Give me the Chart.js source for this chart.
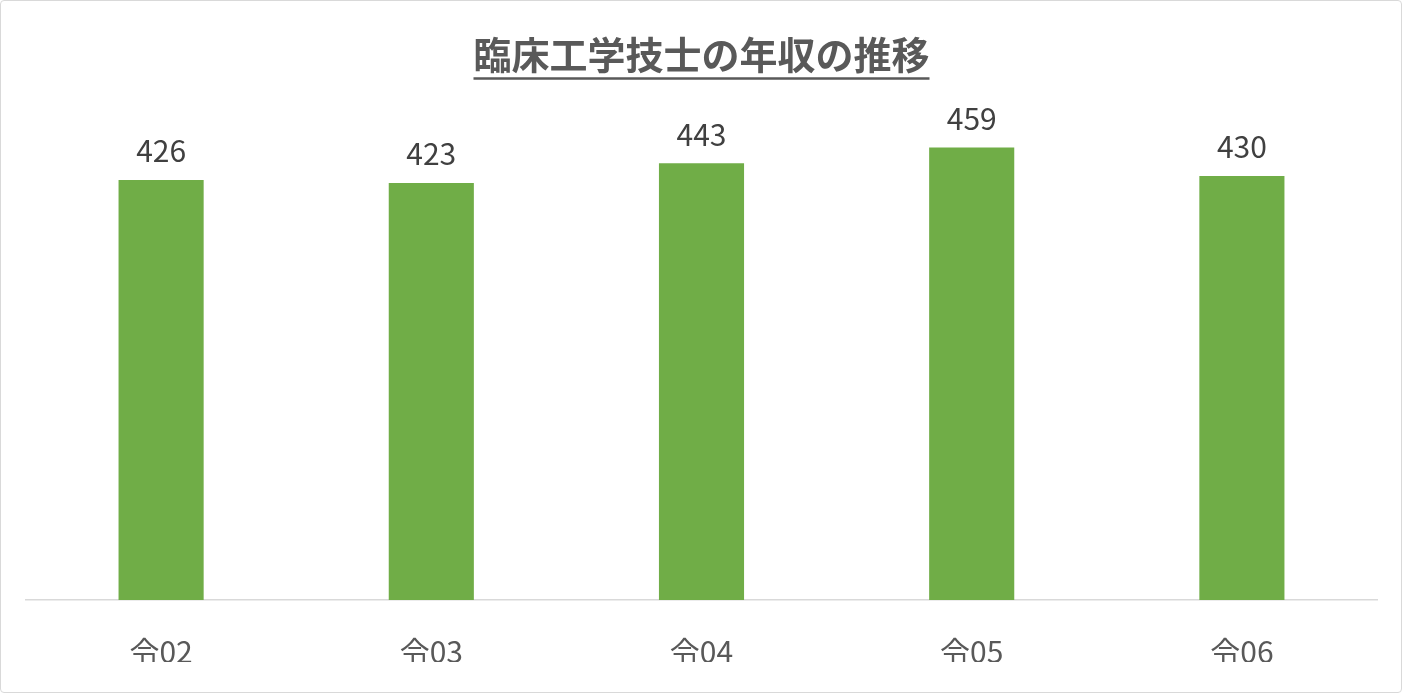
<!DOCTYPE html>
<html lang="ja">
<head>
<meta charset="utf-8">
<script src="https://cdn.jsdelivr.net/npm/chart.js@4/dist/chart.umd.min.js"></script>
<style>
  html, body { margin: 0; padding: 0; background: #fff; }
  .frame { width: 1400px; height: 691px; border: 1px solid #d9d9d9; border-radius: 4px; position: relative; }
  canvas { display: block; }
</style>
</head>
<body>
<div class="frame"><canvas id="chart"></canvas></div>
<script>
const TITLE = '臨床工学技士の年収の推移';
const CATEGORIES = ['令02', '令03', '令04', '令05', '令06'];
const SALARY = [426, 423, 443, 459, 430];
const FONT = '"Noto Sans CJK JP", "Noto Sans", sans-serif';
const TITLE_SIZE = 38;
const TITLE_PAD_TOP = 31;

// value labels above each bar
const valueLabels = {
  id: 'valueLabels',
  afterDatasetsDraw(chart) {
    const ctx = chart.ctx;
    const meta = chart.getDatasetMeta(0);
    ctx.save();
    ctx.font = '30px ' + FONT;
    ctx.fillStyle = '#404040';
    ctx.textAlign = 'center';
    ctx.textBaseline = 'middle';
    meta.data.forEach((bar, i) => {
      ctx.fillText(String(SALARY[i]), bar.x, bar.y - 29);
    });
    ctx.restore();
  }
};

// underline under the title
const titleUnderline = {
  id: 'titleUnderline',
  afterDraw(chart) {
    const tb = chart.titleBlock;
    if (!tb) return;
    const ctx = chart.ctx;
    ctx.save();
    ctx.font = 'bold ' + TITLE_SIZE + 'px ' + FONT;
    const w = ctx.measureText(TITLE).width;
    const cx = (chart.chartArea.left + chart.chartArea.right) / 2;
    const y = tb.top + TITLE_PAD_TOP + TITLE_SIZE * 1.2 + 1;
    ctx.strokeStyle = '#595959';
    ctx.lineWidth = 2.5;
    ctx.beginPath();
    ctx.moveTo(cx - w / 2, y);
    ctx.lineTo(cx + w / 2, y);
    ctx.stroke();
    ctx.restore();
  }
};

new Chart(document.getElementById('chart').getContext('2d'), {
  type: 'bar',
  data: {
    labels: CATEGORIES,
    datasets: [{
      data: SALARY,
      backgroundColor: '#70AD47',
      borderWidth: 0,
      barPercentage: 0.315,
      categoryPercentage: 1
    }]
  },
  options: {
    responsive: true,
    maintainAspectRatio: false,
    animation: false,
    layout: { padding: { left: 25, right: 24, top: 0, bottom: 30 } },
    plugins: {
      legend: { display: false },
      tooltip: { enabled: false },
      title: {
        display: true,
        text: TITLE,
        color: '#595959',
        font: { family: FONT, size: TITLE_SIZE, weight: 'bold' },
        padding: { top: TITLE_PAD_TOP, bottom: 29.4 }
      }
    },
    scales: {
      x: {
        grid: { display: false },
        border: { display: true, color: '#d9d9d9', width: 1.5 },
        ticks: { color: '#595959', font: { family: FONT, size: 30 }, padding: 26, maxRotation: 0 },
        afterFit: (scale) => { scale.height = 62; }
      },
      y: {
        display: false,
        min: 0,
        max: 500
      }
    }
  },
  plugins: [valueLabels, titleUnderline]
});
</script>
</body>
</html>
